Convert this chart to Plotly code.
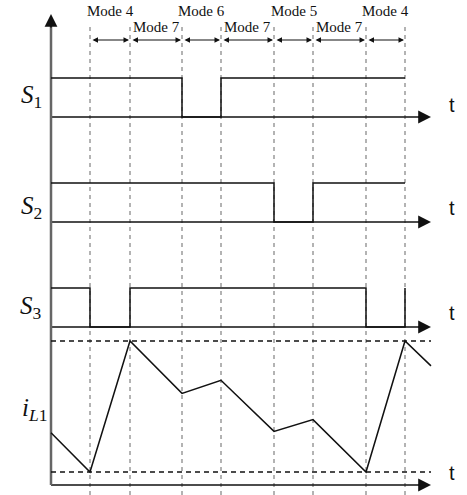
import plotly.graph_objects as go

# ---- data (time in diagram units, levels normalised 0..1) ----
mode_bounds = [39, 79, 131, 170, 223, 262, 315, 354]
mode_labels = ["Mode 4", "Mode 7", "Mode 6", "Mode 7", "Mode 5", "Mode 7", "Mode 4"]

s1_t = [0, 131, 170, 354]
s1_v = [1, 0, 1, 1]
s2_t = [0, 223, 262, 354]
s2_v = [1, 0, 1, 1]
s3_t = [0, 39, 79, 315, 354]
s3_v = [1, 0, 1, 0, 1]

il_t = [0, 39, 79, 131, 170, 223, 262, 315, 354, 380]
il_v = [0.30, 0.0, 1.0, 0.60, 0.70, 0.31, 0.40, 0.0, 1.0, 0.81]

t_end = 380

# ---- layout helpers (row placement) ----
H = 495
rows = {"S1": 378, "S2": 273, "S3": 168}
sw_h = 39
il_base_axis = 10
il_lo, il_span = 23, 131
top_dash = 470
arrow_y = 455

fig = go.Figure()

BLACK = "#111111"
GRAY = "#9a9a9a"

# vertical dashed mode boundaries
for b in mode_bounds:
    fig.add_trace(go.Scatter(x=[b, b], y=[0, top_dash], mode="lines",
                             line=dict(color=GRAY, width=1.5, dash="4px,4px"),
                             hoverinfo="skip", showlegend=False))

# horizontal time axes
axes_y = [rows["S1"], rows["S2"], rows["S3"], il_base_axis]
for yb in axes_y:
    fig.add_trace(go.Scatter(x=[0, t_end - 8], y=[yb, yb], mode="lines",
                             line=dict(color=BLACK, width=1.6),
                             hoverinfo="skip", showlegend=False))
    fig.add_annotation(x=t_end, y=yb, ax=t_end - 14, ay=yb, xref="x", yref="y",
                       axref="x", ayref="y", text="", showarrow=True,
                       arrowhead=2, arrowsize=1.6, arrowwidth=1.6,
                       arrowcolor=BLACK, standoff=0, startstandoff=0)

# vertical axis
fig.add_trace(go.Scatter(x=[0, 0], y=[il_base_axis, 470], mode="lines",
                         line=dict(color="#666666", width=2.5),
                         hoverinfo="skip", showlegend=False))
fig.add_annotation(x=0, y=481, ax=0, ay=466, xref="x", yref="y",
                   axref="x", ayref="y", text="", showarrow=True,
                   arrowhead=2, arrowsize=1.6, arrowwidth=1.6,
                   arrowcolor=BLACK, standoff=0, startstandoff=0)

# switching signals
for name, tt, vv in [("S1", s1_t, s1_v), ("S2", s2_t, s2_v), ("S3", s3_t, s3_v)]:
    base = rows[name]
    fig.add_trace(go.Scatter(x=tt, y=[base + v * sw_h for v in vv], mode="lines",
                             line=dict(color=BLACK, width=1.5, shape="hv"),
                             hoverinfo="skip", showlegend=False))

# iL1 bounds (dashed)
for lv in [0, 1]:
    fig.add_trace(go.Scatter(x=[0, t_end], y=[il_lo + lv * il_span] * 2, mode="lines",
                             line=dict(color=BLACK, width=1.4, dash="5px,4px"),
                             hoverinfo="skip", showlegend=False))

# iL1 waveform
fig.add_trace(go.Scatter(x=il_t, y=[il_lo + v * il_span for v in il_v], mode="lines",
                         line=dict(color=BLACK, width=1.5),
                         hoverinfo="skip", showlegend=False))

# mode arrows and labels
for i, lab in enumerate(mode_labels):
    a, b = mode_bounds[i], mode_bounds[i + 1]
    fig.add_annotation(x=b - 1, y=arrow_y, ax=a + 1, ay=arrow_y, xref="x", yref="y",
                       axref="x", ayref="y", text="", showarrow=True,
                       arrowhead=2, arrowside="end+start", arrowsize=1.0,
                       arrowwidth=1.1, arrowcolor=BLACK, standoff=0, startstandoff=0)
    ylab = 484 if i % 2 == 0 else 468
    fig.add_annotation(x=(a + b) / 2, y=ylab, text=lab, showarrow=False,
                       font=dict(family="Liberation Serif", size=15, color=BLACK),
                       xref="x", yref="y")

# signal labels
lab_font = dict(family="Liberation Serif", size=25, color=BLACK)
sig_labels = [("<i>S</i><sub>1</sub>", -20, 399), ("<i>S</i><sub>2</sub>", -20, 288),
              ("<i>S</i><sub>3</sub>", -20, 188), ("<i>i</i><sub><i>L</i>1</sub>", -17, 86)]
for txt, xx, yy in sig_labels:
    fig.add_annotation(x=xx, y=yy, text=txt, showarrow=False, font=lab_font,
                       xref="x", yref="y")

# "t" labels
for yy in [390, 287, 182, 22]:
    fig.add_annotation(x=401, y=yy, text="t", showarrow=False,
                       font=dict(family="Liberation Sans", size=20, color=BLACK),
                       xref="x", yref="y")

fig.update_layout(width=467, height=495, margin=dict(l=0, r=0, t=0, b=0),
                  paper_bgcolor="white", plot_bgcolor="white",
                  xaxis=dict(range=[-51, 416], visible=False, fixedrange=True),
                  yaxis=dict(range=[0, H], visible=False, fixedrange=True))

fig.write_html("out.html")
